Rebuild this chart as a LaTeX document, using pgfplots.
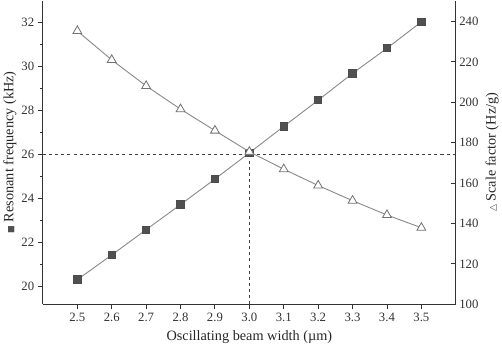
\documentclass[border=0pt]{standalone}
\usepackage{fontspec}
\setmainfont{Liberation Serif}
\newfontfamily\sym{DejaVu Sans}
\usepackage{pgfplots}
\pgfplotsset{compat=1.18}
\definecolor{sqfill}{HTML}{505050}
\definecolor{lgray}{HTML}{8A8A8A}
\begin{document}
\begin{tikzpicture}
\pgfplotsset{
  every axis/.append style={
    scale only axis, width=405pt, height=298pt,
    xmin=2.4, xmax=3.6,
    /pgf/number format/assume math mode=true,
    tick label style={font=\fontsize{12.5}{14}\selectfont, text=black!80},
    label style={font=\fontsize{14}{16}\selectfont, text=black!85},
    axis line style={black!80, line width=1pt},
    major tick length=5pt, minor tick length=3pt,
    every tick/.style={black!80, line width=0.9pt},
  }
}
\begin{axis}[
  axis x line*=bottom, axis y line*=left,
  ymin=19.2, ymax=33,
  ytick={20,22,...,32}, minor y tick num=1,
  xtick={2.5,2.6,...,3.51},
  xticklabel style={/pgf/number format/fixed, /pgf/number format/precision=1, /pgf/number format/fixed zerofill},
  tick align=outside,
  xlabel={Oscillating beam width (\textmu m)},
  ylabel={{\sym\fontsize{8}{10}\selectfont\textcolor{sqfill}{■}}\ Resonant frequency (kHz)},
  ylabel style={yshift=-2pt},
  xlabel style={yshift=-2pt},
]
\addplot[black!75, dashed, line width=0.8pt] coordinates {(2.4,26) (3.6,26)};
\addplot[black!75, dashed, line width=0.8pt] coordinates {(3.0,19.2) (3.0,26)};
\addplot[lgray, line width=0.9pt, mark=square*, mark size=3.6pt,
  mark options={fill=sqfill, draw=black!70, solid}] coordinates {
  (2.5,20.32) (2.6,21.44) (2.7,22.59) (2.8,23.73) (2.9,24.89) (3.0,26.08)
  (3.1,27.28) (3.2,28.47) (3.3,29.69) (3.4,30.83) (3.5,32.03)};
\end{axis}
\begin{axis}[
  axis x line=none, axis y line*=right,
  ymin=100, ymax=250.4,
  ytick={100,120,...,240},
  tick align=inside,
  ylabel={{\sym\fontsize{9}{10}\selectfont\textcolor{black!70}{△}}\ Scale factor (Hz/g)},
]
\addplot[lgray, line width=0.9pt, mark=triangle*, mark size=5pt,
  mark options={fill=white, draw=black!55, line width=0.8pt, solid}] coordinates {
  (2.5,235.3) (2.6,221.0) (2.7,208.1) (2.8,196.6) (2.9,186.0) (3.0,175.5)
  (3.1,166.9) (3.2,158.8) (3.3,151.3) (3.4,144.2) (3.5,137.9)};
\end{axis}
\end{tikzpicture}
\end{document}
